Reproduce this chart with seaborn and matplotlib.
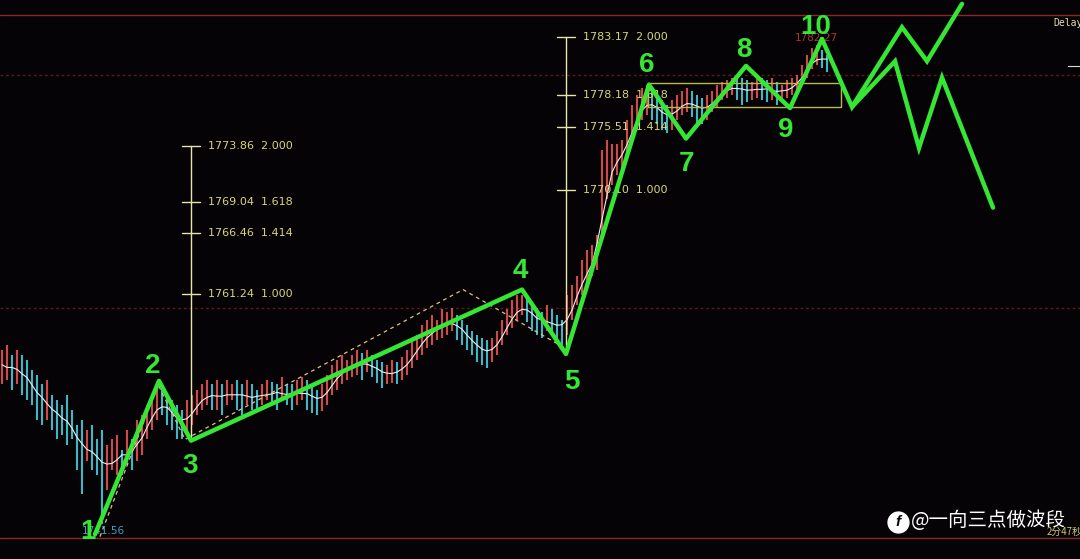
import numpy as np
import pandas as pd
import matplotlib
matplotlib.use("Agg")
import matplotlib.pyplot as plt
import seaborn as sns

# ---------------- data ----------------
high = [1756.4, 1756.9, 1756.0, 1756.4, 1756.0, 1755.6, 1754.7, 1754.3, 1753.5, 1753.9,
        1752.6, 1752.2, 1751.7, 1752.6, 1751.3, 1750.0, 1750.5, 1749.6, 1750.0, 1748.8,
        1749.6, 1748.3, 1748.8, 1749.2, 1747.9, 1749.6, 1748.8, 1750.5, 1750.9, 1751.7,
        1752.6, 1753.5, 1753.0, 1752.6, 1752.2, 1751.7, 1751.3, 1752.2, 1752.6, 1753.0,
        1753.5, 1753.9, 1753.5, 1753.9, 1753.5, 1753.9, 1753.5, 1753.9, 1753.5, 1753.9,
        1753.5, 1753.0, 1753.5, 1753.9, 1753.7, 1753.5, 1754.1, 1753.5, 1753.5, 1753.9,
        1754.1, 1753.9, 1753.5, 1753.0, 1753.5, 1754.3, 1755.2, 1755.6, 1756.0, 1755.6,
        1756.0, 1756.4, 1756.2, 1756.4, 1756.0, 1755.6, 1755.4, 1755.2, 1755.6, 1755.4,
        1755.8, 1756.4, 1757.3, 1757.7, 1758.6, 1759.0, 1759.4, 1759.0, 1759.9, 1759.7,
        1760.0, 1759.4, 1759.0, 1758.6, 1758.1, 1757.7, 1757.5, 1757.3, 1757.5, 1758.1,
        1759.0, 1759.9, 1760.7, 1761.1, 1761.1, 1760.9, 1760.5, 1760.0, 1759.7, 1760.3,
        1759.9, 1759.4, 1759.0, 1761.1, 1762.0, 1762.8, 1764.1, 1765.0, 1765.4, 1766.3,
        1773.5, 1774.4, 1774.0, 1774.0, 1774.4, 1776.1, 1777.4, 1778.2, 1778.8, 1779.1,
        1778.6, 1778.2, 1777.8, 1777.4, 1777.8, 1778.2, 1778.6, 1778.8, 1778.6, 1778.2,
        1778.0, 1778.2, 1778.6, 1779.1, 1779.3, 1779.5, 1779.7, 1779.9, 1779.7, 1779.5,
        1779.3, 1779.9, 1779.7, 1779.5, 1779.7, 1779.3, 1779.1, 1779.5, 1779.7, 1779.9,
        1780.8, 1781.6, 1782.2, 1782.5, 1782.1, 1781.6]
low = [1753.5, 1753.9, 1753.0, 1753.5, 1752.6, 1752.2, 1751.7, 1750.5, 1750.0, 1750.5,
       1749.6, 1748.8, 1749.2, 1748.3, 1748.8, 1746.2, 1744.1, 1747.0, 1746.2, 1745.8,
       1741.6, 1744.5, 1746.2, 1745.8, 1745.8, 1746.6, 1746.2, 1747.0, 1747.5, 1748.8,
       1749.6, 1750.5, 1750.9, 1750.0, 1749.6, 1748.8, 1748.8, 1749.2, 1750.0, 1750.9,
       1751.3, 1751.7, 1751.3, 1751.3, 1750.9, 1751.7, 1752.2, 1751.3, 1750.9, 1751.7,
       1751.3, 1751.3, 1751.7, 1752.2, 1751.7, 1751.3, 1752.2, 1751.7, 1751.3, 1751.7,
       1752.2, 1751.3, 1751.1, 1750.9, 1751.2, 1751.7, 1752.6, 1753.0, 1753.5, 1753.9,
       1754.1, 1754.3, 1753.9, 1754.6, 1754.1, 1753.6, 1753.2, 1753.5, 1753.6, 1753.5,
       1753.9, 1754.3, 1754.9, 1755.6, 1756.0, 1756.6, 1756.9, 1757.3, 1757.5, 1757.7,
       1758.1, 1757.3, 1756.9, 1756.4, 1756.0, 1755.4, 1755.2, 1754.9, 1755.4, 1756.0,
       1756.9, 1757.7, 1758.3, 1759.0, 1759.4, 1758.8, 1758.1, 1757.7, 1757.5, 1758.1,
       1757.7, 1757.1, 1756.9, 1757.7, 1759.0, 1760.3, 1761.1, 1762.0, 1762.8, 1763.3,
       1765.8, 1769.3, 1770.5, 1771.4, 1771.8, 1772.7, 1774.0, 1775.2, 1776.1, 1776.5,
       1776.1, 1775.7, 1775.2, 1775.0, 1775.2, 1776.1, 1776.5, 1776.8, 1776.3, 1775.7,
       1775.7, 1776.1, 1776.8, 1777.1, 1777.8, 1778.0, 1778.2, 1777.8, 1777.4, 1777.6,
       1777.8, 1778.0, 1777.8, 1777.6, 1777.8, 1777.4, 1777.8, 1778.0, 1778.2, 1778.5,
       1779.1, 1779.7, 1780.4, 1780.8, 1780.5, 1780.2]

wave_labels = ["1", "2", "3", "4", "5", "6", "7", "8", "9", "10"]
wave_x = [18.6, 31.4, 37.8, 104.0, 112.8, 129.4, 136.8, 148.8, 157.6, 164.0]
wave_y = [1740.7, 1753.8, 1748.7, 1761.6, 1756.1, 1779.1, 1774.5, 1780.7, 1777.1, 1783.0]

proj_a_x = [164.0, 170.0, 180.0, 185.0, 192.0]
proj_a_y = [1783.0, 1777.2, 1784.0, 1781.1, 1786.0]
proj_b_x = [170.0, 178.6, 183.4, 188.0, 198.2]
proj_b_y = [1777.2, 1781.1, 1773.7, 1779.7, 1768.6]

dash_x = [19.6, 31.2, 36.6, 92.2, 112.6]
dash_y = [1740.5, 1753.5, 1748.8, 1761.6, 1756.6]

fib1_prices = [1773.86, 1769.04, 1766.46, 1761.24]
fib2_prices = [1783.17, 1778.18, 1775.51, 1770.10]
fib_ratios = ["2.000", "1.618", "1.414", "1.000"]

box_x = [129.2, 167.8]
box_y = [1777.2, 1779.2]
bound_levels = [1785.05, 1740.4]
dotted_levels = [1779.9, 1760.0]
low_mark = "1741.56"
last_mark = "1782.27"
last_price = 1780.7

# ---------------- style ----------------
BG = "#060306"
GREEN = "#35e635"
sns.set_theme(style="dark", rc={"axes.facecolor": BG, "figure.facecolor": BG})
plt.rcParams["font.family"] = ["Liberation Sans", "DejaVu Sans"]

fig = plt.figure(figsize=(10.8, 5.59), dpi=100)
ax = fig.add_axes([0, 0, 1, 1])
ax.set_facecolor(BG)
ax.set_xlim(-0.4, 215.6)
ax.set_ylim(1738.59, 1786.33)
ax.axis("off")

# horizontal reference lines
for lv in bound_levels:
    ax.axhline(lv, color="#8a2828", lw=1.0, zorder=1)
for lv in dotted_levels:
    ax.axhline(lv, color="#5c1a1a", lw=1.0, ls=(0, (2, 2)), zorder=1)

# bars
df = pd.DataFrame({"high": high, "low": low})
df["idx"] = np.arange(len(df))
df["mid"] = (df["high"] + df["low"]) / 2
df["up"] = df["mid"].diff().fillna(0) >= 0
colors = np.where(df["up"], "#d04a4a", "#3db6c6")
ax.vlines(df["idx"], df["low"], df["high"], colors=colors, lw=1.5, zorder=2)
df["ma"] = df["mid"].rolling(4, min_periods=1, center=True).mean()
sns.lineplot(data=df, x="idx", y="ma", ax=ax, color="#eeeeee", lw=0.8,
             estimator=None, sort=False, zorder=3)

# dashed helper wave
ax.plot(dash_x, dash_y, color="#e0c080", lw=0.9, ls=(0, (3, 3)), zorder=3)

# fib levels
FIBC = "#e6e6a8"
FIBT = "#d6d67a"
for px, prices, y_end in [(wave_x[2], fib1_prices, wave_y[2]), (wave_x[4], fib2_prices, wave_y[4])]:
    ax.plot([px, px], [prices[0], y_end], color=FIBC, lw=1.0, zorder=3)
    for p, r in zip(prices, fib_ratios):
        ax.plot([px - 1.8, px + 1.8], [p, p], color=FIBC, lw=1.0, zorder=3)
        ax.text(px + 3.4, p, f"{p:.2f}  {r}", color=FIBT, fontsize=8,
                va="center", ha="left", family=["DejaVu Sans"], zorder=4)

# box
ax.plot([box_x[0], box_x[1], box_x[1], box_x[0], box_x[0]],
        [box_y[0], box_y[0], box_y[1], box_y[1], box_y[0]],
        color="#b8b850", lw=1.0, zorder=3)

# small price labels
ax.text(wave_x[0] - 2.6, 1741.0, low_mark, color="#3aa2c2", fontsize=7.5,
        va="center", ha="left", family=["DejaVu Sans"], zorder=4)
ax.text(158.6, 1783.1, last_mark, color="#a83838", fontsize=7.5,
        va="center", ha="left", family=["DejaVu Sans"], zorder=4)
ax.axhline(last_price, xmin=1068 / 1080, xmax=1, color="#dddddd", lw=0.8)

# green waves
wdf = pd.DataFrame({"x": wave_x, "y": wave_y})
sns.lineplot(data=wdf, x="x", y="y", ax=ax, color=GREEN, lw=3.2,
             estimator=None, sort=False, zorder=5)
ax.plot(proj_a_x, proj_a_y, color=GREEN, lw=3.2, zorder=5, solid_joinstyle="miter")
ax.plot(proj_b_x, proj_b_y, color=GREEN, lw=3.2, zorder=5, solid_joinstyle="miter")

offsets = [(-7, 2), (-6, 15), (-1, -25), (-2, 19), (6, -28),
           (-2, 20), (0, -25), (-2, 16), (-4, -22), (-6, 12)]
for lab, x, y, (dx, dy) in zip(wave_labels, wave_x, wave_y, offsets):
    ax.annotate(lab, (x, y), xytext=(dx, dy), textcoords="offset pixels",
                ha="center", va="center", color=GREEN, fontsize=20,
                fontweight="bold", zorder=6)

# corner texts
fig.text(1053 / 1080, 1 - 23 / 559, "Delay", color="#e0e0b0", fontsize=7,
         family=["DejaVu Sans Mono"], va="center", ha="left")
fig.text(1047 / 1080, 1 - 532 / 559, "2分47秒", color="#c8c870", fontsize=7,
         family=["Noto Sans CJK SC", "DejaVu Sans"], va="center", ha="left")
ax.plot([898 / 1080], [1 - 522 / 559], "o", ms=15, color="white",
        transform=fig.transFigure, zorder=7)
fig.text(898 / 1080, 1 - 522 / 559, "f", color=BG, fontsize=11, fontweight="bold",
         style="italic", va="center", ha="center", zorder=8)
fig.text(911 / 1080, 1 - 521 / 559, "@一向三点做波段", color="white", fontsize=14,
         family=["Noto Sans CJK SC", "DejaVu Sans"], va="center", ha="left", zorder=8)

fig.savefig("out.png", dpi=100, facecolor=BG)
